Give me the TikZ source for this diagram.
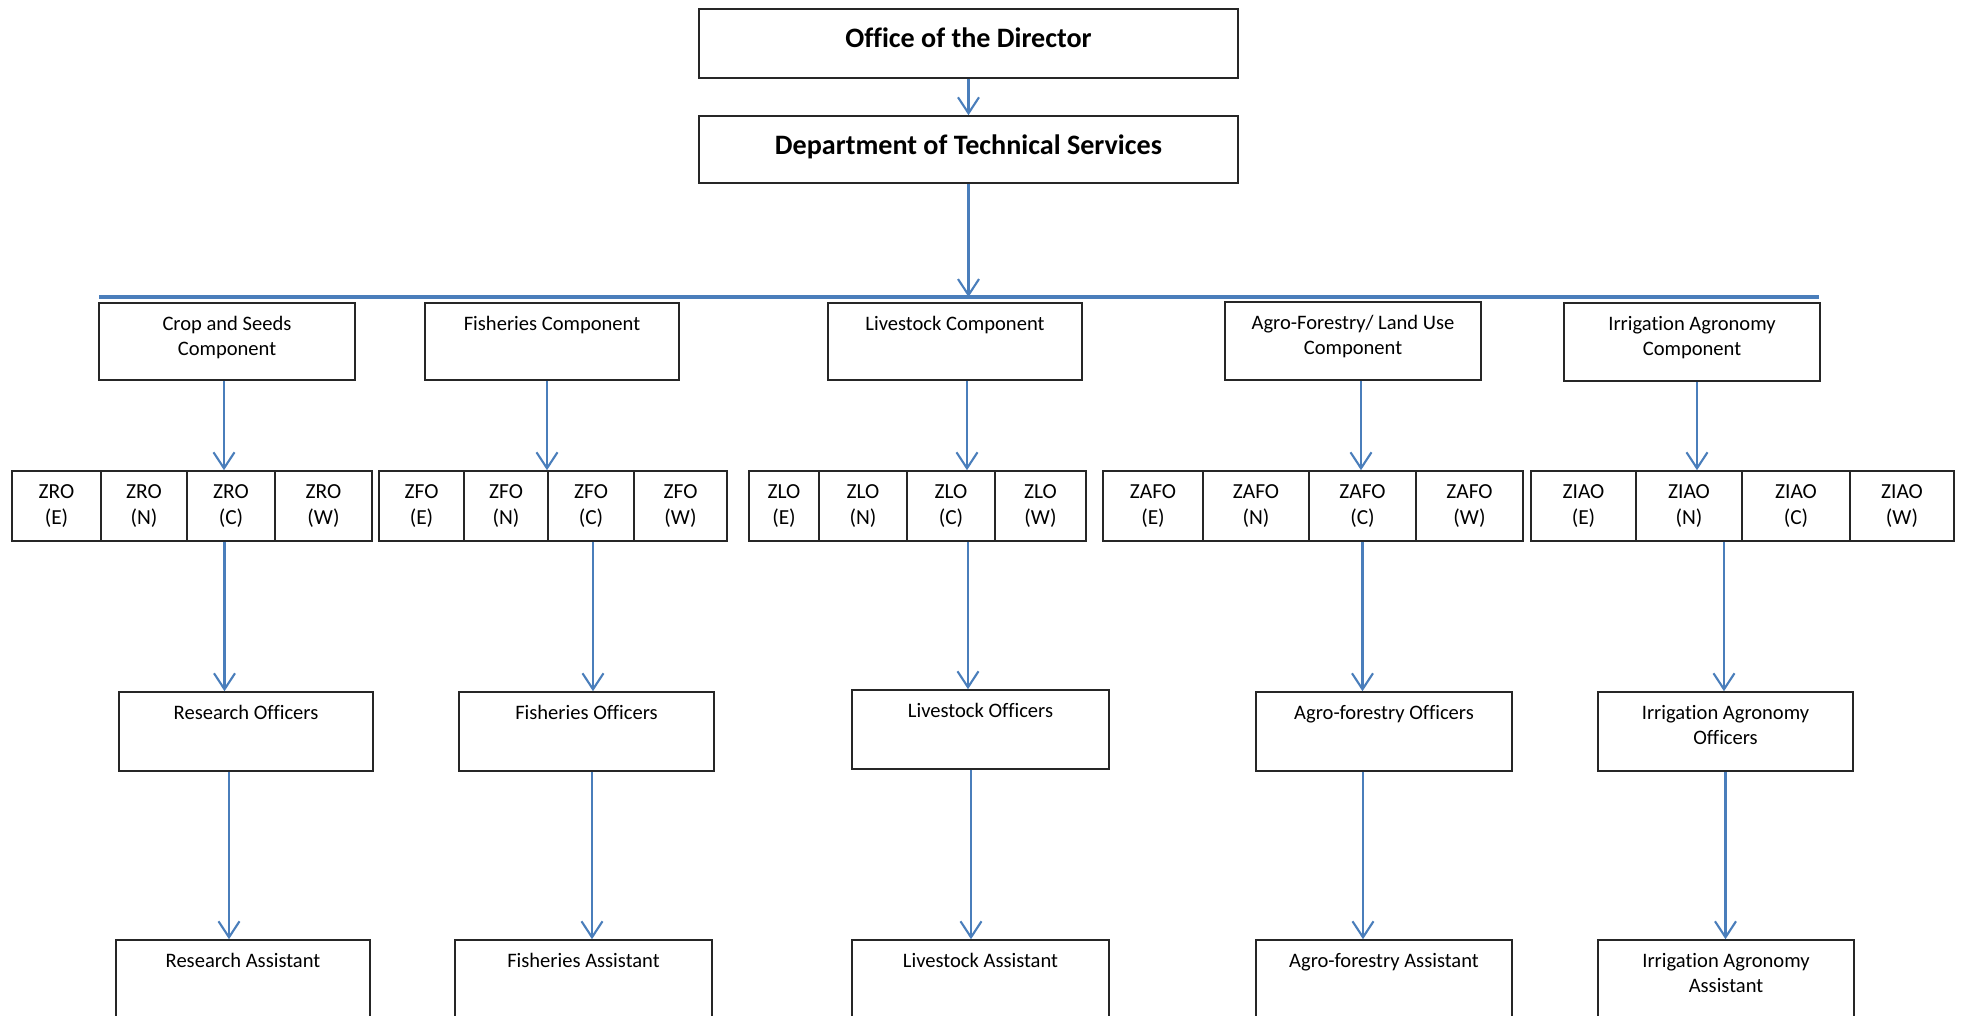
\documentclass[tikz,border=0pt]{standalone}
\usepackage{fontspec}
\setmainfont{Carlito}[Ligatures=CommonOff]
\usetikzlibrary{arrows.meta}

\definecolor{linkblue}{HTML}{4A7EBB}

% text set at the top of a box of given width and height
\newcommand{\toptxt}[4][6pt]{\parbox[c][#3][t]{#2}{\centering\vspace*{#1}\strut #4}}

\tikzset{
  head/.style={draw=black!85, line width=0.9pt, inner sep=0pt, font=\fontsize{16}{19}\selectfont\bfseries},
  box/.style={draw=black!85, line width=0.9pt, inner sep=0pt, font=\fontsize{11.7}{14}\selectfont},
  zone/.style={draw=black!85, line width=0.9pt, inner sep=0pt, minimum height=1.4cm, align=center, font=\fontsize{12.2}{14.8}\selectfont},
  link/.style={draw=linkblue, line width=1.2pt, -{Straight Barb[length=0.32cm, width=0.42cm]}},
  bus/.style={draw=linkblue, line width=1.8pt},
}

\begin{document}
\begin{tikzpicture}[x=0.02cm, y=-0.02cm]
	\useasboundingbox (0,0) rectangle (1962,1016);
	\clip (0,0) rectangle (1962,1016);

	\node[head] (office) at (968.5,43.5) {\toptxt[8.5pt]{10.78cm}{1.38cm}{Office of the Director}};
	\node[head] (dts) at (968.5,149.5) {\toptxt[8.5pt]{10.78cm}{1.34cm}{Department of Technical Services}};

	\coordinate (busL) at (99,297);
	\coordinate (busR) at (1819,297);
	\draw[bus] (busL) -- (busR);

	% components
	\node[box] (crop) at (227,341.5) {\toptxt{5.12cm}{1.54cm}{Crop and Seeds\\Component}};
	\node[box] (fish) at (552,341.5) {\toptxt{5.08cm}{1.54cm}{Fisheries Component}};
	\node[box] (live) at (955,341.5) {\toptxt{5.08cm}{1.54cm}{Livestock Component}};
	\node[box] (agro) at (1353,341) {\toptxt{5.12cm}{1.56cm}{Agro-Forestry/ Land Use\\Component}};
	\node[box] (irri) at (1692,342) {\toptxt{5.12cm}{1.56cm}{Irrigation Agronomy\\Component}};

	% zonal officers
	\foreach \nm/\ab/\pa/\pb/\pc/\pd/\pe in {zro/ZRO/12/101/187/275/372, zfo/ZFO/379/464/548/634/727, zlo/ZLO/749/819/907/995/1086, zafo/ZAFO/1103/1203/1309/1416/1523, ziao/ZIAO/1531/1636/1742/1850/1954}{
		\node[zone, minimum width={(\pb-\pa)*0.02cm}] (\nm-E) at ({(\pa+\pb)/2},506) {\ab\\(E)};
		\node[zone, minimum width={(\pc-\pb)*0.02cm}] (\nm-N) at ({(\pb+\pc)/2},506) {\ab\\(N)};
		\node[zone, minimum width={(\pd-\pc)*0.02cm}] (\nm-C) at ({(\pc+\pd)/2},506) {\ab\\(C)};
		\node[zone, minimum width={(\pe-\pd)*0.02cm}] (\nm-W) at ({(\pd+\pe)/2},506) {\ab\\(W)};
	}

	% officers
	\node[box] (resoff) at (246,731.5) {\toptxt{5.08cm}{1.58cm}{Research Officers}};
	\node[box] (fishoff) at (586.5,731.5) {\toptxt{5.1cm}{1.58cm}{Fisheries Officers}};
	\node[box] (liveoff) at (980.5,729.5) {\toptxt{5.14cm}{1.58cm}{Livestock Officers}};
	\node[box] (agrooff) at (1384,731.5) {\toptxt{5.12cm}{1.58cm}{Agro-forestry Officers}};
	\node[box] (irrioff) at (1725.5,731.5) {\toptxt{5.1cm}{1.58cm}{Irrigation Agronomy\\Officers}};

	% assistants
	\node[box] (resast) at (243,980) {\toptxt{5.08cm}{1.6cm}{Research Assistant}};
	\node[box] (fishast) at (583.5,980) {\toptxt{5.14cm}{1.6cm}{Fisheries Assistant}};
	\node[box] (liveast) at (980.5,980) {\toptxt{5.14cm}{1.6cm}{Livestock Assistant}};
	\node[box] (agroast) at (1384,980) {\toptxt{5.12cm}{1.6cm}{Agro-forestry Assistant}};
	\node[box] (irriast) at (1726,980) {\toptxt{5.12cm}{1.6cm}{Irrigation Agronomy\\Assistant}};

	% connectors
	\draw[link] (office) -- (dts);
	\draw[link] (dts.south) -- (dts.south |- busL);
	\foreach \a/\b/\s in {crop/zro-C/-0.06, fish/zfo-C/-0.1, live/zlo-C/0.24, agro/zafo-C/0.16, irri/ziao-N/0.1,
		zro-C/resoff/-0.13, zfo-C/fishoff/0.04, zlo-C/liveoff/0.34, zafo-C/agrooff/0, ziao-N/irrioff/0.7,
		resoff/resast/-0.34, fishoff/fishast/0.11, liveoff/liveast/-0.19, agrooff/agroast/-0.42, irrioff/irriast/0}
		\draw[link] ([xshift=\s cm]\a.south) -- ([xshift=\s cm]\a.south |- \b.north);
\end{tikzpicture}
\end{document}
